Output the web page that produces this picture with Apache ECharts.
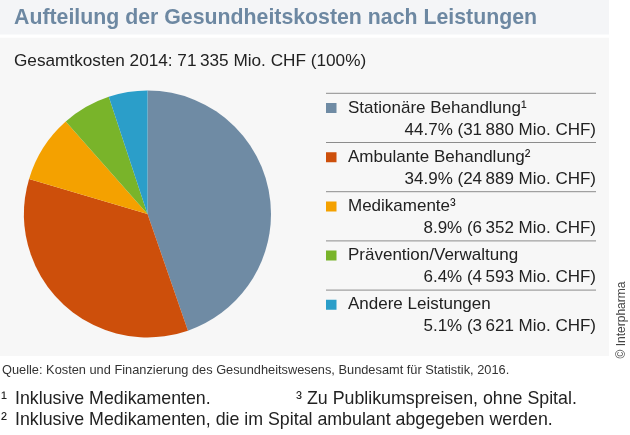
<!DOCTYPE html>
<html>
<head>
<meta charset="utf-8">
<script src="https://cdn.jsdelivr.net/npm/echarts@6/dist/echarts.min.js"></script>
<style>
  html, body { margin: 0; padding: 0; background: #fff; }
  #chart { width: 630px; height: 435px; }
</style>
</head>
<body>
<div id="chart"></div>
<script>
// data
const categories = ['Stationäre Behandlung¹', 'Ambulante Behandlung²', 'Medikamente³', 'Prävention/Verwaltung', 'Andere Leistungen'];
const costs = [31880, 24889, 6352, 4593, 3621];
const shares = [44.7, 34.9, 8.9, 6.4, 5.1];
const colors = ['#6f8ba4', '#cd4f0b', '#f4a100', '#79b42a', '#2b9ec9'];

const font = 'Liberation Sans, Arial, sans-serif';
const thin = '\u2009';

function fmt(n) {
  const s = String(n);
  return s.length > 3 ? s.slice(0, s.length - 3) + thin + s.slice(-3) : s;
}

// legend layout
const legendLeft = 326;
const legendTop = 97;
const itemH = 44;
const itemGap = 5.2;
const lineTop = 93.3;

const separators = categories.map((c, i) => ({
  type: 'line',
  z: 5,
  shape: { x1: 326, y1: lineTop + i * (itemH + itemGap), x2: 596, y2: lineTop + i * (itemH + itemGap) },
  style: { stroke: '#8c8c8c', lineWidth: 1 }
}));

function note(text, left, top) {
  return {
    text: text,
    left: left,
    top: top,
    padding: 0,
    textStyle: { fontSize: 17.8, fontWeight: 'normal', color: '#222', fontFamily: font }
  };
}

var myChart = echarts.init(document.getElementById('chart'));

myChart.setOption({
  animation: false,
  color: colors,
  textStyle: { fontFamily: font },
  title: [
    {
      text: 'Aufteilung der Gesundheitskosten nach Leistungen',
      left: 14,
      top: 8,
      padding: 0,
      textStyle: { fontSize: 21.3, fontWeight: 'bold', color: '#6d88a2', fontFamily: font }
    },
    {
      text: 'Gesamtkosten 2014: 71' + thin + '335 Mio. CHF (100%)',
      left: 14,
      top: 53,
      padding: 0,
      textStyle: { fontSize: 17.2, fontWeight: 'normal', color: '#222', fontFamily: font }
    },
    {
      text: 'Quelle: Kosten und Finanzierung des Gesundheitswesens, Bundesamt für Statistik, 2016.',
      left: 2,
      top: 364,
      padding: 0,
      textStyle: { fontSize: 12.8, fontWeight: 'normal', color: '#333', fontFamily: font }
    },
    note('¹', 1, 390.5),
    note('Inklusive Medikamenten.', 15, 390.5),
    note('³', 296, 390.5),
    note('Zu Publikumspreisen, ohne Spital.', 307, 390.5),
    note('²', 1, 411.5),
    note('Inklusive Medikamenten, die im Spital ambulant abgegeben werden.', 15, 411.5)
  ],
  legend: {
    orient: 'vertical',
    left: legendLeft,
    top: legendTop,
    padding: 0,
    itemWidth: 17,
    itemHeight: itemH,
    itemGap: itemGap,
    selectedMode: false,
    // square sits beside the first text line
    icon: 'path://M0,0h0.01v0.01h-0.01z M0,6h10.5v10h-10.5z M16.99,43.99h0.01v0.01h-0.01z',
    data: categories,
    formatter: function (name) {
      const i = categories.indexOf(name);
      return '{n|' + name + '}\n{v|' + shares[i].toFixed(1) + '% (' + fmt(costs[i]) + ' Mio. CHF)}';
    },
    textStyle: {
      color: '#222',
      fontFamily: font,
      rich: {
        n: { fontSize: 17, lineHeight: 22, width: 248, align: 'left', color: '#222', fontFamily: font },
        v: { fontSize: 17, lineHeight: 22, width: 248, align: 'right', color: '#222', fontFamily: font }
      }
    }
  },
  graphic: [
    {
      type: 'rect',
      z: -10,
      shape: { x: 0, y: 0, width: 609, height: 34.5 },
      style: { fill: '#f4f5f7' }
    },
    {
      type: 'rect',
      z: -10,
      shape: { x: 0, y: 37.7, width: 609, height: 318.3 },
      style: { fill: '#f7f7f7' }
    },
    ...separators,
    {
      type: 'text',
      x: 622,
      y: 320,
      rotation: Math.PI / 2,
      style: {
        text: '© Interpharma',
        fontSize: 12,
        fontFamily: font,
        fill: '#444',
        align: 'center',
        verticalAlign: 'middle'
      }
    }
  ],
  series: [
    {
      name: 'Gesundheitskosten',
      type: 'pie',
      center: [147.5, 214],
      radius: 123.5,
      startAngle: 90,
      clockwise: true,
      label: { show: false },
      labelLine: { show: false },
      emphasis: { disabled: true },
      itemStyle: { borderWidth: 0 },
      data: categories.map((name, i) => ({ name: name, value: costs[i] }))
    }
  ]
});
</script>
</body>
</html>
